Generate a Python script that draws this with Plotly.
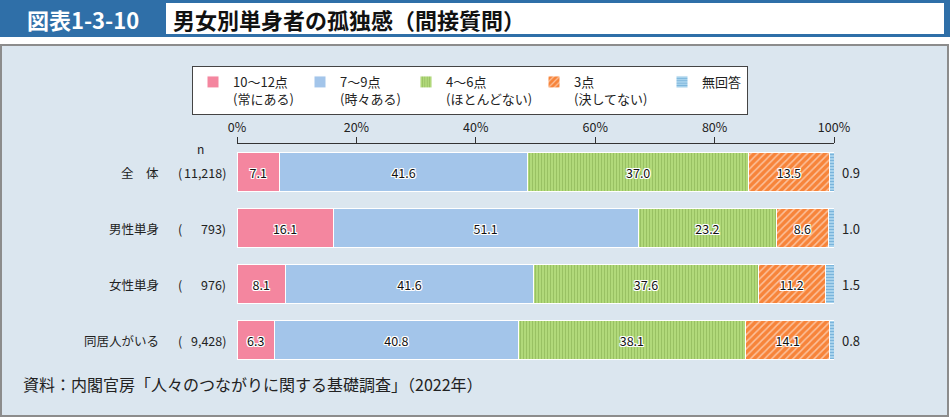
import plotly.graph_objects as go

# ---- data ----
categories = ["全　体", "男性単身", "女性単身", "同居人がいる"]
n_labels = ["11,218)", "793)", "976)", "9,428)"]
series_names = ["10〜12点<br>(常にある)", "7〜9点<br>(時々ある)", "4〜6点<br>(ほとんどない)", "3点<br>(決してない)", "無回答"]
always = [7.1, 16.1, 8.1, 6.3]
sometimes = [41.6, 51.1, 41.6, 40.8]
rarely = [37.0, 23.2, 37.6, 38.1]
never = [13.5, 8.6, 11.2, 14.1]
no_answer = [0.9, 1.0, 1.5, 0.8]
tick_vals = [0, 20, 40, 60, 80, 100]
tick_text = ["0%", "20%", "40%", "60%", "80%", "100%"]

FONT = "Noto Sans CJK JP"
W, H = 950, 418
L, R, T, B = 237, 834, 144, 368


def px_x(x):
    return (x - L) / (R - L)


def px_y(y):
    return (B - y) / (B - T)


halo = ("1px 0 0 #fff, -1px 0 0 #fff, 0 1px 0 #fff, 0 -1px 0 #fff, "
        "1px 1px 0 #fff, -1px -1px 0 #fff, 1px -1px 0 #fff, -1px 1px 0 #fff")

styles = [
    dict(color="#f4869f", pattern=None, lw=62),
    dict(color="#a3c5ea", pattern=None, lw=61),
    dict(color="#a9d46f", pattern=dict(shape="|", fgcolor="#7fa84a", bgcolor="#b3db7c", size=3, solidity=0.4), lw=83),
    dict(color="#f7883a", pattern=dict(shape="/", fgcolor="#ffffff", bgcolor="#f7843a", size=5, solidity=0.3), lw=83),
    dict(color="#5aa6d4", pattern=dict(shape="-", fgcolor="#3d8cc3", bgcolor="#b6dcf2", size=3, solidity=0.5), lw=None),
]
values = [always, sometimes, rarely, never, no_answer]

fig = go.Figure()
for i, (name, vals, st) in enumerate(zip(series_names, values, styles)):
    marker = dict(color=st["color"], line=dict(color="#ffffff", width=1))
    if st["pattern"]:
        marker["pattern"] = st["pattern"]
    show_text = i < 4
    kw = {}
    if st["lw"]:
        kw["legendwidth"] = st["lw"]
    fig.add_trace(go.Bar(
        y=categories, x=vals, name=name, orientation="h",
        marker=marker, width=0.68,
        text=[f"{v:.1f}" for v in vals] if show_text else None,
        textposition="inside" if show_text else "none",
        insidetextanchor="middle", textangle=0,
        constraintext="none",
        textfont=dict(family=FONT, size=12.5, color="#111111", shadow=halo),
        hoverinfo="skip",
        **kw,
    ))

shapes = [
    # panel
    dict(type="rect", xref="paper", yref="paper", x0=px_x(1), x1=px_x(948), y0=px_y(416), y1=px_y(45),
         fillcolor="#dbe6ef", line=dict(color="#8c8c8c", width=2), layer="below"),
    # header band
    dict(type="rect", xref="paper", yref="paper", x0=px_x(0), x1=px_x(950), y0=px_y(37), y1=px_y(0),
         fillcolor="#2f6fa8", line=dict(width=0), layer="below"),
    dict(type="rect", xref="paper", yref="paper", x0=px_x(166), x1=px_x(944), y0=px_y(34), y1=px_y(3),
         fillcolor="#ffffff", line=dict(width=0), layer="below"),
]

annotations = [
    dict(text="<b>図表1-3-10</b>", x=px_x(83), y=px_y(19), xref="paper", yref="paper",
         xanchor="center", yanchor="middle", showarrow=False,
         font=dict(family=FONT, size=22, color="#ffffff")),
    dict(text="<b>男女別単身者の孤独感（間接質問）</b>", x=px_x(171), y=px_y(19), xref="paper", yref="paper",
         xanchor="left", yanchor="middle", showarrow=False,
         font=dict(family=FONT, size=22, color="#111111")),
    dict(text="資料：内閣官房「人々のつながりに関する基礎調査」（2022年）", x=px_x(21), y=px_y(384),
         xref="paper", yref="paper", xanchor="left", yanchor="middle", showarrow=False,
         font=dict(family=FONT, size=16, color="#222222")),
    dict(text="n", x=px_x(200), y=px_y(148), xref="paper", yref="paper",
         xanchor="center", yanchor="middle", showarrow=False,
         font=dict(family=FONT, size=12, color="#222222")),
]
for cat, nl, na in zip(categories, n_labels, no_answer):
    annotations.append(dict(text=cat, x=px_x(161), y=cat, xref="paper", yref="y",
                            xanchor="right", yanchor="middle", showarrow=False,
                            font=dict(family=FONT, size=12.5, color="#222222")))
    annotations.append(dict(text="(", x=px_x(176), y=cat, xref="paper", yref="y",
                            xanchor="left", yanchor="middle", showarrow=False,
                            font=dict(family=FONT, size=12.5, color="#222222")))
    annotations.append(dict(text=nl, x=px_x(228), y=cat, xref="paper", yref="y",
                            xanchor="right", yanchor="middle", showarrow=False,
                            font=dict(family=FONT, size=12.5, color="#222222")))
    annotations.append(dict(text=f"{na:.1f}", x=1, y=cat, xref="paper", yref="y",
                            xanchor="left", xshift=6, yanchor="middle", showarrow=False,
                            font=dict(family=FONT, size=13, color="#222222")))

fig.update_layout(
    width=W, height=H,
    margin=dict(l=L, r=W - R, t=T, b=H - B, pad=0, autoexpand=False),
    barmode="stack", bargap=0.32,
    paper_bgcolor="#ffffff", plot_bgcolor="rgba(0,0,0,0)",
    font=dict(family=FONT, size=12, color="#222222"),
    showlegend=True,
    legend=dict(orientation="h", x=px_x(192), y=px_y(66), xanchor="left", yanchor="top",
                valign="top", bgcolor="#ffffff", bordercolor="#444444", borderwidth=1,
                font=dict(family=FONT, size=13, color="#222222"), traceorder="normal",
                itemclick=False, itemdoubleclick=False),
    xaxis=dict(range=[0, 100], side="top", tickvals=tick_vals, ticktext=tick_text,
               ticks="outside", ticklen=6, tickcolor="#333333", showline=True,
               linecolor="#333333", linewidth=1, showgrid=False, zeroline=False,
               tickfont=dict(family=FONT, size=12.5, color="#222222"), fixedrange=True),
    yaxis=dict(categoryorder="array", categoryarray=categories, range=[3.5, -0.5],
               showticklabels=False, showgrid=False, zeroline=False, showline=False,
               fixedrange=True),
    shapes=shapes, annotations=annotations,
)

fig.write_html("out.html", config={"displayModeBar": False},
               post_script="document.body.style.margin='0';document.body.style.overflow='hidden';")
